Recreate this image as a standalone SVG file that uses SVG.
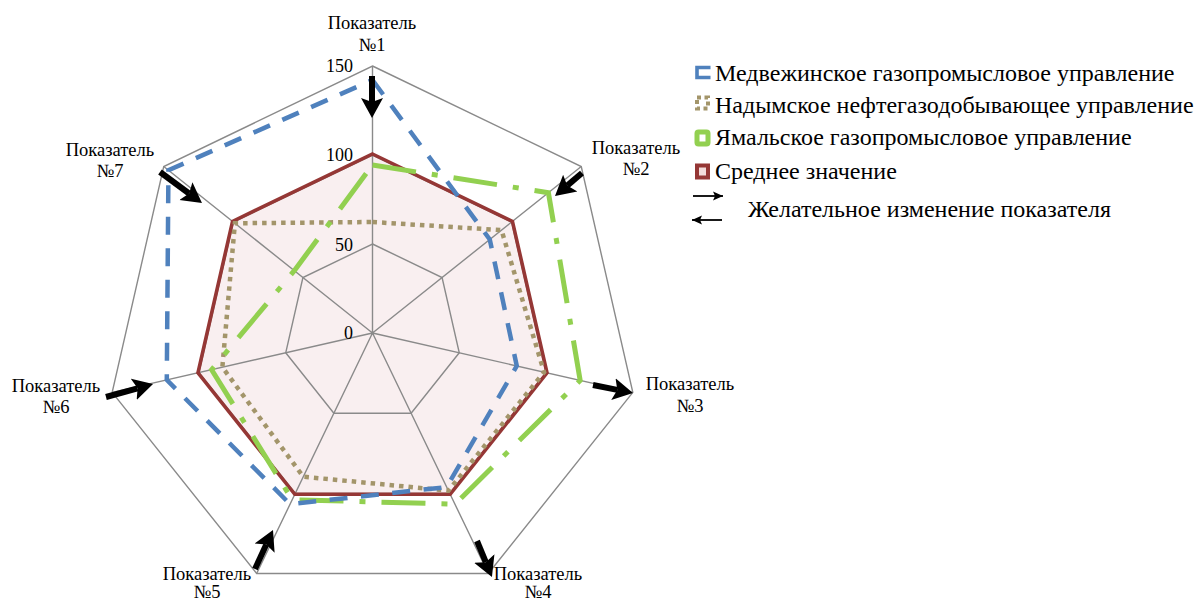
<svg xmlns="http://www.w3.org/2000/svg" width="1196" height="603" viewBox="0 0 1196 603">
<style>
.grid{fill:none;stroke:#8a8a8a;stroke-width:1.4}
.avgfill{fill:#f9eff0;stroke:none}
.avg{fill:none;stroke:#953735;stroke-width:3.6;stroke-linejoin:miter}
.med{fill:none;stroke:#4f81bd;stroke-width:4.5;stroke-dasharray:18 13.5}
.nad{fill:none;stroke:#a3956a;stroke-width:4.5;stroke-dasharray:4.5 5}
.yam{fill:none;stroke:#92d050;stroke-width:5;stroke-dasharray:44 16 6 16}
.lbl{font-family:"Liberation Serif","Times New Roman",serif;font-size:18.5px;fill:#000;text-anchor:middle}
.tick{font-family:"Liberation Serif","Times New Roman",serif;font-size:18px;fill:#000;text-anchor:end}
.leg{font-family:"Liberation Serif","Times New Roman",serif;font-size:24px;fill:#000}
.arr{stroke:#000;stroke-width:6;fill:none;marker-end:url(#big)}
.sarr{stroke:#000;stroke-width:1.8;fill:none;marker-end:url(#small)}
</style>
<defs>
<marker id="big" markerUnits="userSpaceOnUse" markerWidth="24" markerHeight="24" viewBox="0 -12 24 24" refX="4" refY="0" orient="auto">
<path d="M0,-11 L20,0 L0,11 L4,0 z" fill="#000"/>
</marker>
<marker id="small" markerUnits="userSpaceOnUse" markerWidth="12" markerHeight="12" viewBox="0 -6 12 12" refX="10" refY="0" orient="auto">
<path d="M0,-4.5 L10,0 L0,4.5 L2,0 z" fill="#000"/>
</marker>
</defs>
<rect width="1196" height="603" fill="#fff"/>

<g id="avg-fill">
<polygon class="avgfill" points="372.5,154 512.45,221.4 547.01,372.83 450.16,494.27 294.84,494.27 197.99,372.83 232.55,221.4"/>
</g>

<g id="grid">
<polygon class="grid" points="372.5,66 581.25,166.53 632.81,392.41 488.35,573.56 256.65,573.56 112.19,392.41 163.75,166.53"/>
<polygon class="grid" points="372.5,155 511.67,222.02 546.04,372.61 449.73,493.37 295.27,493.37 198.96,372.61 233.33,222.02"/>
<polygon class="grid" points="372.5,244 442.08,277.51 459.27,352.8 411.12,413.19 333.88,413.19 285.73,352.8 302.92,277.51"/>
<path class="grid" d="M372.5,333 L372.5,66 M372.5,333 L581.25,166.53 M372.5,333 L632.81,392.41 M372.5,333 L488.35,573.56 M372.5,333 L256.65,573.56 M372.5,333 L112.19,392.41 M372.5,333 L163.75,166.53"/>
</g>

<g id="ticks">
<text class="tick" x="353" y="72">150</text>
<text class="tick" x="353" y="161">100</text>
<text class="tick" x="353" y="251">50</text>
<text class="tick" x="353" y="339">0</text>
</g>

<g id="series-avg">
<polygon class="avg" points="372.5,154 512.45,221.4 547.01,372.83 450.16,494.27 294.84,494.27 197.99,372.83 232.55,221.4"/>
</g>
<g id="series-nadym">
<polygon class="nad" points="372.5,222 501.5,230.12 544.09,372.16 448.43,490.67 303.3,476.7 222.36,367.27 234.9,223.27"/>
</g>
<g id="series-yamal">
<polygon class="yam" points="372.5,165 548.41,192.71 580.16,380.4 454.94,504.18 292.2,499.7 211.64,369.72 294.32,270.65"/>
</g>
<g id="series-medvezh">
<polygon class="med" points="372.5,80 489.77,239.48 516.79,365.93 446.69,487.07 290.06,504.18 166.79,379.95 168.44,170.27"/>
</g>

<g id="connectors">
<line class="arr" x1="372" y1="76" x2="372" y2="102"/>
<line class="arr" x1="582" y1="173" x2="567.2" y2="185.6"/>
<line class="arr" x1="593" y1="385" x2="617.3" y2="389.9"/>
<line class="arr" x1="477" y1="541" x2="485.8" y2="562.2"/>
<line class="arr" x1="255" y1="569" x2="266.3" y2="544.5"/>
<line class="arr" x1="106" y1="397" x2="137.6" y2="388.3"/>
<line class="arr" x1="160" y1="172" x2="189.1" y2="193.5"/>
</g>

<g id="label-1"><text class="lbl" x="372" y="29">Показатель</text><text class="lbl" x="372" y="51">№1</text></g>
<g id="label-2"><text class="lbl" x="636" y="154">Показатель</text><text class="lbl" x="636" y="175">№2</text></g>
<g id="label-3"><text class="lbl" x="690" y="390">Показатель</text><text class="lbl" x="690" y="412">№3</text></g>
<g id="label-4"><text class="lbl" x="538" y="580">Показатель</text><text class="lbl" x="538" y="598">№4</text></g>
<g id="label-5"><text class="lbl" x="207" y="580">Показатель</text><text class="lbl" x="207" y="598">№5</text></g>
<g id="label-6"><text class="lbl" x="56" y="392">Показатель</text><text class="lbl" x="56" y="413">№6</text></g>
<g id="label-7"><text class="lbl" x="110" y="156">Показатель</text><text class="lbl" x="110" y="177">№7</text></g>

<g id="legend">
<g id="legend-medvezh">
<path d="M710.5,67.5 H697 V77.5 H710.5" fill="none" stroke="#4f81bd" stroke-width="3.6"/>
<text class="leg" x="715" y="81">Медвежинское газопромысловое управление</text>
</g>
<g id="legend-nadym">
<rect x="697" y="97.5" width="11" height="11" fill="none" stroke="#a3956a" stroke-width="4" stroke-dasharray="4 3.5"/>
<text class="leg" x="715" y="113">Надымское нефтегазодобывающее управление</text>
</g>
<g id="legend-yamal">
<rect x="697" y="132" width="11" height="12" rx="1.5" fill="#fff" stroke="#92d050" stroke-width="5"/>
<text class="leg" x="715" y="145">Ямальское газопромысловое управление</text>
</g>
<g id="legend-avg">
<rect x="697" y="165.5" width="11" height="12" fill="#f2dcdb" stroke="#953735" stroke-width="4"/>
<text class="leg" x="715" y="179">Среднее значение</text>
</g>
<g id="legend-arrows">
<line class="sarr" x1="693" y1="196" x2="723" y2="196"/>
<line class="sarr" x1="722" y1="220" x2="692" y2="220"/>
<text class="leg" x="748" y="217">Желательное изменение показателя</text>
</g>
</g>
</svg>
